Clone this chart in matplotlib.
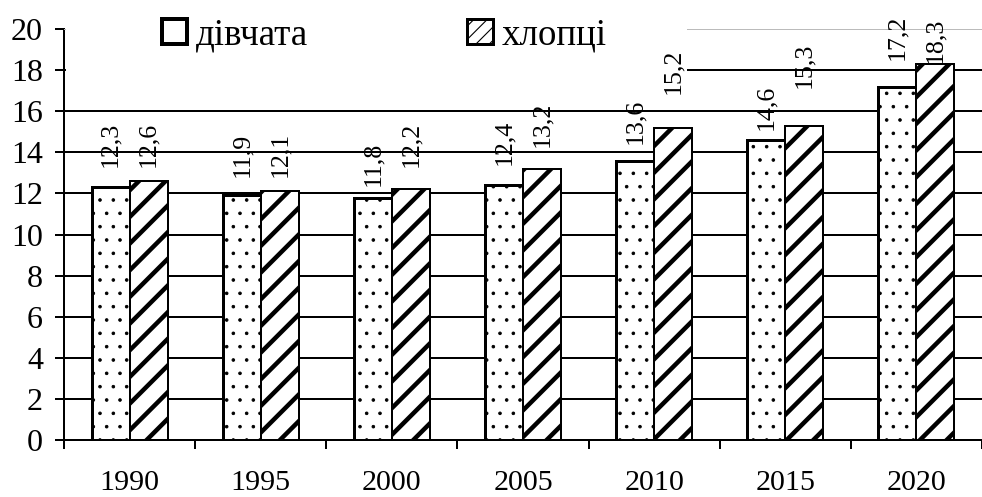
import matplotlib.pyplot as plt
import numpy as np
from matplotlib.patches import Patch, Rectangle

FONT = ['Liberation Serif', 'DejaVu Serif']
plt.rcParams['font.family'] = 'serif'
plt.rcParams['font.serif'] = FONT

years = ['1990', '1995', '2000', '2005', '2010', '2015', '2020']
girls = [12.3, 11.9, 11.8, 12.4, 13.6, 14.6, 17.2]
boys = [12.6, 12.1, 12.2, 13.2, 15.2, 15.3, 18.3]
y_ticks = [0, 2, 4, 6, 8, 10, 12, 14, 16, 18, 20]

# label gaps above bar tops (pixels), as placed in the original
girls_gap = [20, 18, 12, 20, 17, 10, 27]
boys_gap = [14, 14, 22, 22, 34, 38, 1]

def fmt(v):
    return f"{v:.1f}".replace('.', ',')

DPI = 80
px = 72 / DPI  # points per pixel

fig = plt.figure(figsize=(982 / DPI, 497 / DPI), dpi=DPI)
ax = fig.add_axes([64 / 982, 57 / 497, 918 / 982, 411 / 497])

x = np.arange(len(years))
w = 0.29

with plt.rc_context({'hatch.linewidth': 0.8}):
    b1 = ax.bar(x - w / 2, girls, w, facecolor='white', edgecolor='black',
                linewidth=3 * px, hatch='.', zorder=3)
with plt.rc_context({'hatch.linewidth': 4.5 * px}):
    b2 = ax.bar(x + w / 2, boys, w, facecolor='white', edgecolor='black',
                linewidth=2 * px, hatch='/', zorder=3)

for xi, v, g in zip(x - w / 2, girls, girls_gap):
    ax.annotate(fmt(v), (xi, v), xytext=(0, g * px), textcoords='offset points',
                rotation=90, ha='center', va='bottom', fontsize=26 * px,
                family=FONT, zorder=5)
for xi, v, g in zip(x + w / 2, boys, boys_gap):
    ax.annotate(fmt(v), (xi, v), xytext=(0, g * px), textcoords='offset points',
                rotation=90, ha='center', va='bottom', fontsize=26 * px,
                family=FONT, zorder=5)

# horizontal grid lines
ax.hlines(y_ticks[1:-1], -0.5, len(years), colors='black', linewidth=2 * px, zorder=1)

ax.set_xlim(-0.5, -0.5 + 918 / 133)
ax.set_ylim(0, 20)
ax.set_yticks(y_ticks)
ax.set_yticklabels([str(t) for t in y_ticks], fontsize=32 * px, family=FONT)
ax.tick_params(axis='y', length=9 * px, width=2 * px, pad=12 * px, direction='out')

ax.set_xticks(np.arange(len(years) + 1) - 0.5)
ax.set_xticklabels([])
ax.set_xticks(x, minor=True)
ax.set_xticklabels(years, minor=True, fontsize=30 * px, family=FONT)
ax.tick_params(axis='x', which='major', length=9 * px, width=2 * px, direction='out')
ax.tick_params(axis='x', which='minor', length=0, pad=30 * px)

for s in ['left', 'bottom']:
    ax.spines[s].set_linewidth(2 * px)
ax.spines['right'].set_visible(False)
ax.spines['top'].set_color('#bbbbbb')
ax.spines['top'].set_linewidth(1 * px)

# white area behind the legend
ax.add_patch(Rectangle((2 / 918, 0.87), (687 - 66) / 918, 0.2, transform=ax.transAxes,
                       facecolor='white', edgecolor='none', clip_on=False, zorder=4))

handles = [Patch(facecolor='white', edgecolor='black', linewidth=4 * px),
           Patch(facecolor='white', edgecolor='black', linewidth=3 * px, hatch='//')]
fig.legend(handles, ['дівчата', 'хлопці'], loc='upper left',
           bbox_to_anchor=(162 / 982, 1 - 18 / 497), ncol=2, frameon=False,
           prop={'family': FONT, 'size': 37 * px},
           handlelength=0.68, handleheight=0.68, handletextpad=0.24,
           columnspacing=4.3, borderpad=0, borderaxespad=0)

fig.savefig('out.png', dpi=DPI)
